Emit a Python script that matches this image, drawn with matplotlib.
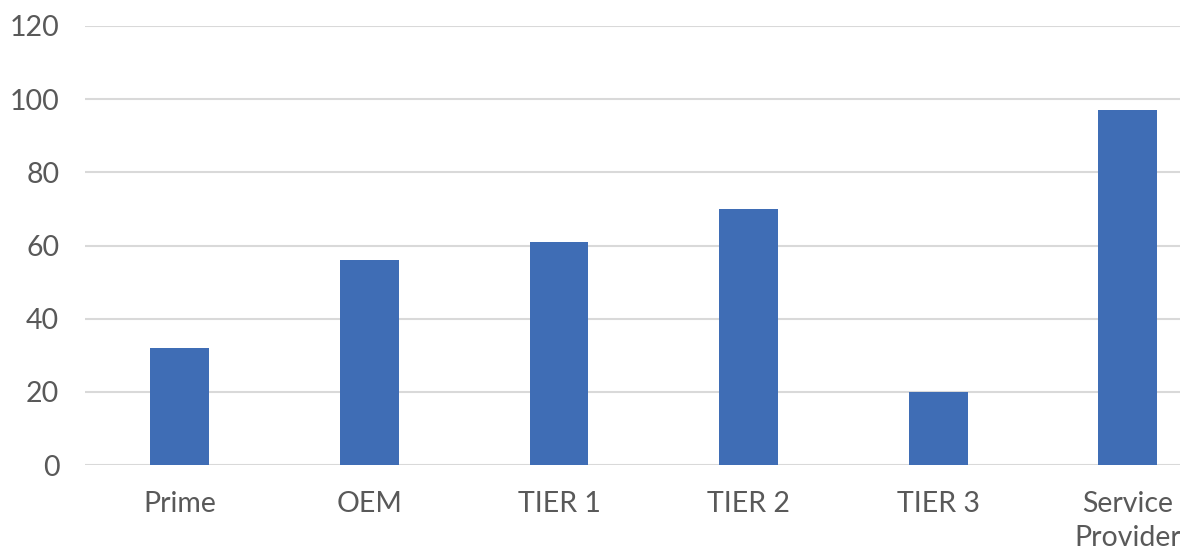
import matplotlib
matplotlib.use("Agg")
import matplotlib.pyplot as plt

categories = ["Prime", "OEM", "TIER 1", "TIER 2", "TIER 3", "Service\nProvider"]
values = [32, 56, 61, 70, 20, 97]
yticks = [0, 20, 40, 60, 80, 100, 120]

plt.rcParams['font.family'] = ['Lato', 'DejaVu Sans']

W, H = 1180, 552
fig = plt.figure(figsize=(W / 100, H / 100), dpi=100)
left, right = 85, 1180
bottom, top = 465, 26
ax = fig.add_axes([left / W, 1 - bottom / H, (right - left) / W, (bottom - top) / H])

x = list(range(len(categories)))
ax.bar(x, values, width=0.31, color="#3F6DB5", zorder=3)

spacing = 189.6
ax.set_xlim(-0.5, -0.5 + (right - left) / spacing)
ax.set_ylim(0, 120)
ax.set_yticks(yticks)
ax.set_xticks(x)
ax.set_xticklabels(categories, linespacing=1.35)
ax.yaxis.grid(True, color="#D9D9D9", linewidth=1.5, zorder=0)
ax.set_axisbelow(True)
for s in ax.spines.values():
    s.set_visible(False)
ax.tick_params(axis='both', length=0, colors="#595959", labelsize=20.5)
ax.tick_params(axis='y', pad=18.5)
ax.tick_params(axis='x', pad=19)
for lab in ax.get_xticklabels() + ax.get_yticklabels():
    lab.set_color("#595959")

fig.savefig("out.png", dpi=100)
